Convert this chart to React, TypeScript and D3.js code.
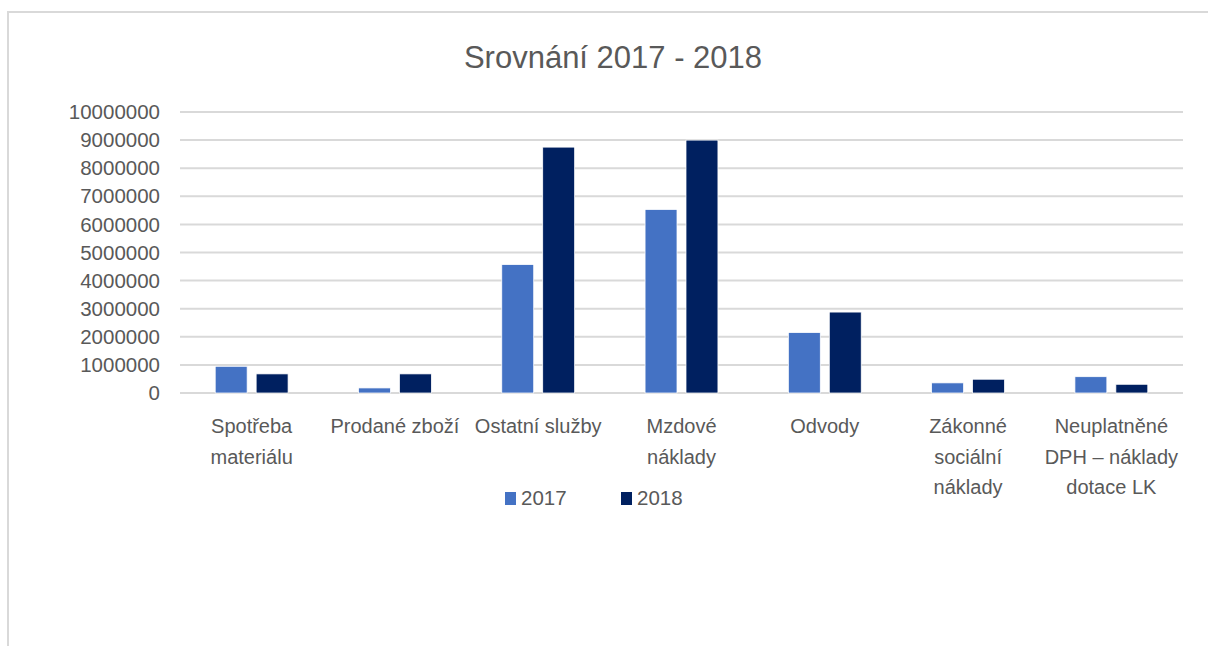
import { useEffect, useRef } from "react";
import * as d3 from "d3";

const title = "Srovnání 2017 - 2018";

const categories = [
  "Spotřeba materiálu",
  "Prodané zboží",
  "Ostatní služby",
  "Mzdové náklady",
  "Odvody",
  "Zákonné sociální náklady",
  "Neuplatněné DPH – náklady dotace LK",
];

const seriesNames = ["2017", "2018"];
const seriesColors = ["#4472C4", "#002060"];

const values2017 = [950000, 180000, 4570000, 6530000, 2150000, 360000, 580000];
const values2018 = [680000, 680000, 8750000, 9000000, 2880000, 490000, 310000];

const yTicks = [
  0, 1000000, 2000000, 3000000, 4000000, 5000000, 6000000, 7000000, 8000000,
  9000000, 10000000,
];

const W = 1208;
const H = 646;
const FONT = "'Liberation Sans', Arial, sans-serif";
const TEXT = "#595959";

export default function App() {
  const svgRef = useRef<SVGSVGElement>(null);

  useEffect(() => {
    if (!svgRef.current) return;
    const svg = d3.select(svgRef.current);
    svg.selectAll("*").remove();

    const plot = { left: 180, right: 1183, top: 112, bottom: 393 };

    // chart border
    svg
      .append("rect")
      .attr("x", 8)
      .attr("y", 12)
      .attr("width", W + 50)
      .attr("height", H + 50)
      .attr("fill", "#fff")
      .attr("stroke", "#d9d9d9")
      .attr("stroke-width", 2);

    svg
      .append("text")
      .attr("x", 613)
      .attr("y", 68)
      .attr("text-anchor", "middle")
      .style("font-family", FONT)
      .style("font-size", "31px")
      .style("fill", TEXT)
      .text(title);

    const x0 = d3
      .scaleBand<string>()
      .domain(categories)
      .range([plot.left, plot.right]);

    const x1 = d3
      .scaleBand<string>()
      .domain(seriesNames)
      .range([0, x0.bandwidth()])
      .paddingInner(0.22)
      .paddingOuter(0.86);

    const y = d3
      .scaleLinear()
      .domain([0, 10000000])
      .range([plot.bottom, plot.top]);

    // gridlines
    svg
      .append("g")
      .selectAll("line")
      .data(yTicks)
      .join("line")
      .attr("x1", plot.left)
      .attr("x2", plot.right)
      .attr("y1", (d) => y(d))
      .attr("y2", (d) => y(d))
      .attr("stroke", "#d9d9d9")
      .attr("stroke-width", 2);

    // y tick labels
    svg
      .append("g")
      .selectAll("text")
      .data(yTicks)
      .join("text")
      .attr("x", 160)
      .attr("y", (d) => y(d))
      .attr("dy", "0.35em")
      .attr("text-anchor", "end")
      .style("font-family", FONT)
      .style("font-size", "20.5px")
      .style("fill", TEXT)
      .text((d) => String(d));

    // bars
    const rows = categories.map((c, i) => ({
      cat: c,
      vals: [values2017[i], values2018[i]],
    }));

    const group = svg
      .append("g")
      .selectAll("g")
      .data(rows)
      .join("g")
      .attr("transform", (d) => `translate(${x0(d.cat)},0)`);

    group
      .selectAll("rect")
      .data((d) =>
        seriesNames.map((s, j) => ({ key: s, color: seriesColors[j], value: d.vals[j] }))
      )
      .join("rect")
      .attr("x", (d) => x1(d.key) ?? 0)
      .attr("width", x1.bandwidth())
      .attr("y", (d) => y(d.value))
      .attr("height", (d) => plot.bottom - y(d.value))
      .attr("fill", (d) => d.color)
      .attr("stroke", "#fff")
      .attr("stroke-width", 0.75);

    // category labels with wrapping
    const maxW = 138;
    const lineH = 30.5;
    const labels = svg
      .append("g")
      .selectAll("text")
      .data(categories)
      .join("text")
      .attr("x", (d) => (x0(d) ?? 0) + x0.bandwidth() / 2)
      .attr("y", 433)
      .attr("text-anchor", "middle")
      .style("font-family", FONT)
      .style("font-size", "20px")
      .style("fill", TEXT);

    labels.each(function (d) {
      const t = d3.select(this);
      const cx = +t.attr("x");
      const words = d.split(" ");
      let line: string[] = [];
      let ts = t.append("tspan").attr("x", cx).attr("dy", 0);
      for (const w of words) {
        line.push(w);
        ts.text(line.join(" "));
        if ((ts.node() as SVGTSpanElement).getComputedTextLength() > maxW && line.length > 1) {
          line.pop();
          ts.text(line.join(" "));
          line = [w];
          ts = t.append("tspan").attr("x", cx).attr("dy", lineH).text(w);
        }
      }
    });

    // legend
    const legendX = [505, 621];
    const lg = svg
      .append("g")
      .selectAll("g")
      .data(seriesNames)
      .join("g")
      .attr("transform", (_d, i) => `translate(${legendX[i]},492)`);
    lg.append("rect")
      .attr("width", 11)
      .attr("height", 13)
      .attr("fill", (_d, i) => seriesColors[i]);
    lg.append("text")
      .attr("x", 16)
      .attr("y", 13)
      .style("font-family", FONT)
      .style("font-size", "20.5px")
      .style("fill", TEXT)
      .text((d) => d);
  }, []);

  return (
    <svg
      ref={svgRef}
      width={W}
      height={H}
      style={{ position: "absolute", left: 0, top: 0, background: "#fff" }}
    />
  );
}
